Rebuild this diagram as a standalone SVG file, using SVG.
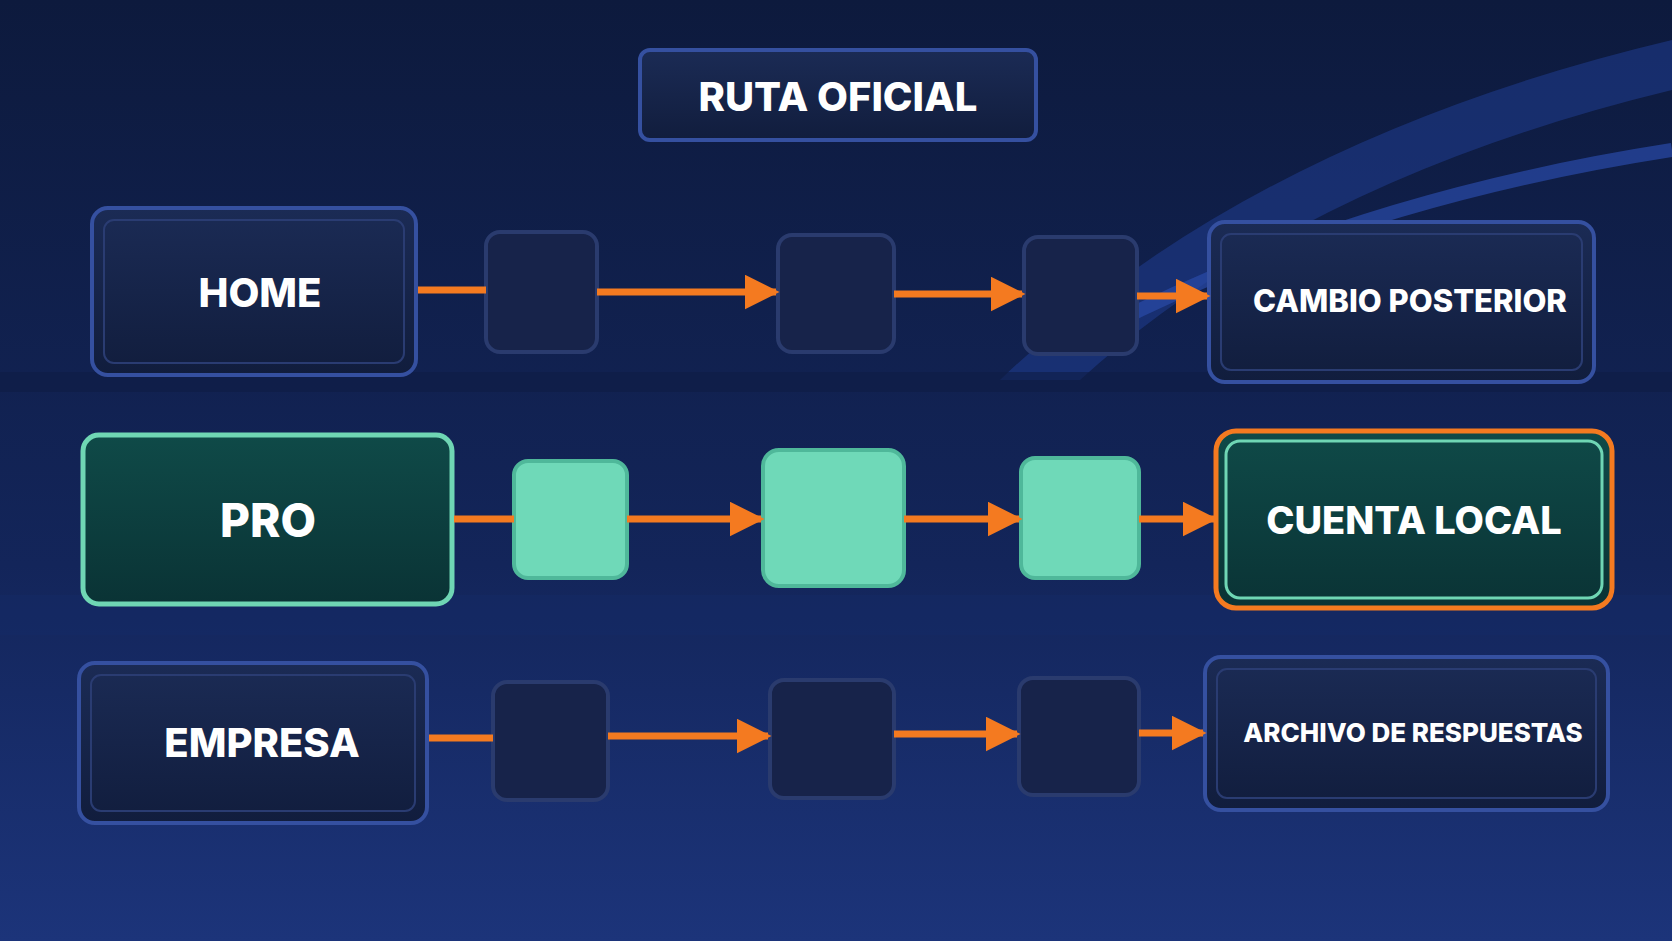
<svg xmlns="http://www.w3.org/2000/svg" width="1672" height="941" viewBox="0 0 1672 941">
<defs>
<linearGradient id="bg" x1="0" y1="0" x2="0" y2="1"><stop offset="0" stop-color="#0d1a3d"/><stop offset="0.6" stop-color="#13255a"/><stop offset="1" stop-color="#1c347a"/></linearGradient>
<linearGradient id="nv" x1="0" y1="0" x2="0" y2="1"><stop offset="0" stop-color="#1b2b55"/><stop offset="1" stop-color="#111d3d"/></linearGradient>
<linearGradient id="tl" x1="0" y1="0" x2="0" y2="1"><stop offset="0" stop-color="#0f4a48"/><stop offset="1" stop-color="#0a3335"/></linearGradient>
<marker id="ah" viewBox="0 0 10 10" refX="9" refY="5" markerWidth="5" markerHeight="5" orient="auto" markerUnits="strokeWidth"><path d="M0,0 L10,5 L0,10 Z" fill="#f47a20"/></marker>
<style>
.nav{fill:url(#nv);stroke:#3550a0;stroke-width:4}
.in{fill:none;stroke:#2a3c72;stroke-width:2}
.tea{fill:url(#tl);stroke:#6fd6b4;stroke-width:5}
.sq{fill:#17234a;stroke:#2a3b6e;stroke-width:4}
.sqt{fill:#6fd9b8;stroke:#4fb89a;stroke-width:4}
.t{font-family:Inter,"Liberation Sans",sans-serif;font-weight:800;fill:#fff;text-anchor:middle;dominant-baseline:central}
.c{stroke:#f47a20;stroke-width:7;fill:none}
</style>
</defs>
<rect width="1672" height="941" fill="url(#bg)"/>
<path d="M1000 380 Q1250 140 1672 40 L1672 90 Q1300 180 1080 380 Z" fill="#1e3a8a" opacity="0.6"/>
<path d="M1100 330 Q1350 200 1672 150" stroke="#2a4aa8" stroke-width="14" fill="none" opacity="0.7"/>
<rect x="0" y="372" width="1672" height="20" fill="#0f1c44" opacity="0.6"/>
<rect x="0" y="595" width="1672" height="40" fill="#142a66" opacity="0.5"/>
<g id="title"><rect x="640" y="50" width="396" height="90" rx="10" class="nav" stroke="#4a68c0"/><text x="838" y="96" class="t" font-size="40">RUTA OFICIAL</text></g>
<g id="home"><rect x="92" y="208" width="324" height="167" rx="16" class="nav"/><rect x="104" y="220" width="300" height="143" rx="10" class="in"/><text x="260" y="292" class="t" font-size="40">HOME</text></g>
<g id="r1a"><rect x="486" y="232" width="111" height="120" rx="14" class="sq"/></g>
<g id="r1b"><rect x="778" y="235" width="116" height="117" rx="14" class="sq"/></g>
<g id="r1c"><rect x="1024" y="237" width="113" height="117" rx="14" class="sq"/></g>
<g id="cambio"><rect x="1209" y="222" width="385" height="160" rx="16" class="nav"/><rect x="1221" y="234" width="361" height="136" rx="10" class="in"/><text x="1410" y="300" class="t" font-size="31">CAMBIO POSTERIOR</text></g>
<g id="pro"><rect x="83" y="435" width="369" height="169" rx="16" class="tea"/><text x="268" y="520" class="t" font-size="46">PRO</text></g>
<g id="r2a"><rect x="514" y="461" width="113" height="117" rx="14" class="sqt"/></g>
<g id="r2b"><rect x="763" y="450" width="141" height="136" rx="16" class="sqt"/></g>
<g id="r2c"><rect x="1021" y="458" width="118" height="120" rx="14" class="sqt"/></g>
<g id="cuenta"><rect x="1216" y="431" width="396" height="177" rx="20" fill="url(#tl)" stroke="#f47a20" stroke-width="5"/><rect x="1226" y="441" width="376" height="157" rx="14" fill="none" stroke="#6fd6b4" stroke-width="3"/><text x="1414" y="520" class="t" font-size="38">CUENTA LOCAL</text></g>
<g id="empresa"><rect x="79" y="663" width="348" height="160" rx="16" class="nav"/><rect x="91" y="675" width="324" height="136" rx="10" class="in"/><text x="262" y="742" class="t" font-size="40">EMPRESA</text></g>
<g id="r3a"><rect x="493" y="682" width="115" height="118" rx="14" class="sq"/></g>
<g id="r3b"><rect x="770" y="680" width="124" height="118" rx="14" class="sq"/></g>
<g id="r3c"><rect x="1019" y="678" width="120" height="117" rx="14" class="sq"/></g>
<g id="archivo"><rect x="1205" y="657" width="403" height="153" rx="16" class="nav"/><rect x="1217" y="669" width="379" height="129" rx="10" class="in"/><text x="1413" y="732" class="t" font-size="26">ARCHIVO DE RESPUESTAS</text></g>
<g id="connectors">
<line x1="418" y1="290" x2="486" y2="290" class="c"/>
<line x1="597" y1="292" x2="776" y2="292" class="c" marker-end="url(#ah)"/>
<line x1="894" y1="294" x2="1022" y2="294" class="c" marker-end="url(#ah)"/>
<line x1="1137" y1="296" x2="1207" y2="296" class="c" marker-end="url(#ah)"/>
<line x1="454" y1="519" x2="514" y2="519" class="c"/>
<line x1="627" y1="519" x2="761" y2="519" class="c" marker-end="url(#ah)"/>
<line x1="904" y1="519" x2="1019" y2="519" class="c" marker-end="url(#ah)"/>
<line x1="1139" y1="519" x2="1214" y2="519" class="c" marker-end="url(#ah)"/>
<line x1="429" y1="738" x2="493" y2="738" class="c"/>
<line x1="608" y1="736" x2="768" y2="736" class="c" marker-end="url(#ah)"/>
<line x1="894" y1="734" x2="1017" y2="734" class="c" marker-end="url(#ah)"/>
<line x1="1139" y1="733" x2="1203" y2="733" class="c" marker-end="url(#ah)"/>
</g>
</svg>
